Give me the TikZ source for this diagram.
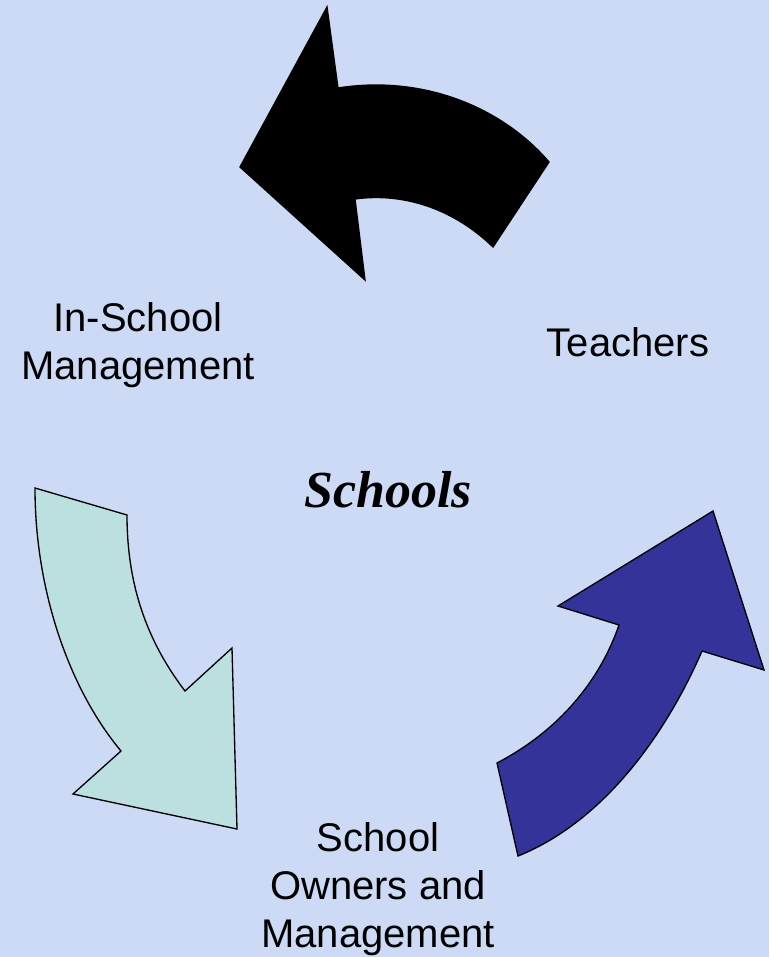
\documentclass[tikz,border=0pt]{standalone}
\usepackage{fontspec}
\setmainfont{Liberation Sans}
\newfontfamily\timesfont{Liberation Serif}
\definecolor{paper}{RGB}{204,218,246}
\definecolor{paleteal}{RGB}{188,224,224}
\definecolor{indigo}{RGB}{51,51,153}

\begin{document}
\begin{tikzpicture}[
  x=0.75pt, y=-0.75pt,
  bigarrow/.style={draw=black, line width=1pt, line join=miter},
  label/.style={align=center, font=\fontsize{30}{35.8}\selectfont},
  ]
\fill[paper] (0,0) rectangle (769,957);
\useasboundingbox (0,0) rectangle (769,957);
% top arrow, back towards the management
\filldraw[bigarrow, fill=black] (327,7) -- (338,88)
  .. controls (420,75) and (500,105) .. (549,162)
  -- (493,247)
  .. controls (455,210) and (405,192) .. (355,199)
  -- (365,280) -- (240,167) -- cycle;
% left arrow, down to the owners
\filldraw[bigarrow, fill=paleteal] (35,488) -- (127,515)
  .. controls (127,590) and (150,645) .. (185,691)
  -- (232,648) -- (237,829) -- (73,794) -- (121,751)
  .. controls (70,690) and (35,592) .. (35,488) -- cycle;
% right arrow, up to the teachers
\filldraw[bigarrow, fill=indigo] (497,763)
  .. controls (560,730) and (600,680) .. (619,625)
  -- (558,606) -- (713,511) -- (764,670) -- (702,651)
  .. controls (662,743) and (598,824) .. (518,856) -- cycle;
\node[label] (inschool) at (138,345) {In-School\\Management};
\node[label] (teachers) at (628,342) {Teachers};
\node[label] (owners) at (378,889) {School\\Owners and\\Management};
\node[font=\timesfont\fontsize{39}{40}\selectfont\bfseries\itshape] (schools) at (388,490) {Schools};
\end{tikzpicture}
\end{document}
